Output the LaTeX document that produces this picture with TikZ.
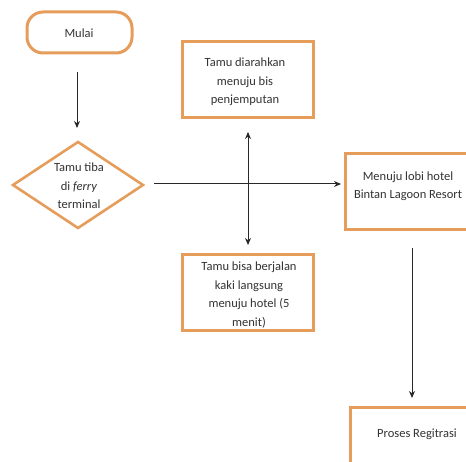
\documentclass[tikz,border=0pt]{standalone}
\usepackage{fontspec}
\setmainfont{Carlito}
\usetikzlibrary{shapes.geometric,arrows.meta}
\definecolor{boxorange}{RGB}{230,156,90}
\definecolor{linegray}{RGB}{40,40,40}
\tikzset{
  x=1pt, y=-1pt,
  flowbox/.style={draw=boxorange, line width=3pt, fill=white},
  lbl/.style={align=center, font=\fontsize{12.5}{18.5}\selectfont, text=black!80, inner sep=0pt},
  conn/.style={draw=linegray, line width=1pt, -{Stealth[length=7pt,width=6pt]}},
}
\begin{document}
\begin{tikzpicture}
\useasboundingbox (0,0) rectangle (466,462);
\clip (0,0) rectangle (466,462);
% start
\draw[flowbox, rounded corners=16pt] (27,12) rectangle (132,53);
\node[lbl] (mulai) at (79,33) {Mulai};
\coordinate (mulaiB) at (77,72);
% decision
\draw[flowbox, line width=2.6pt] (13,185) -- (78,142) -- (143,185) -- (78,228) -- cycle;
\node[lbl] (tiba) at (79,186) {Tamu tiba\\di \textit{ferry}\\terminal};
\coordinate (tibaT) at (77,128);
\coordinate (tibaR) at (154,184);
% boxes
\draw[flowbox] (182,42) rectangle (313,118);
\node[lbl] (bis) at (245,82) {Tamu diarahkan\\menuju bis\\penjemputan};
\draw[flowbox] (182,255) rectangle (313,331);
\node[lbl] (jalan) at (249,295) {Tamu bisa berjalan\\kaki langsung\\menuju hotel (5\\menit)};
\draw[flowbox] (345,154) rectangle (472,230);
\node[lbl] (lobi) at (408,186) {Menuju lobi hotel\\Bintan Lagoon Resort};
\draw[flowbox] (350,407) rectangle (486,480);
\node[lbl] (reg) at (417,434) {Proses Regitrasi};
% connectors
\coordinate (cross) at (248,184);
\coordinate (up) at (248,132);
\coordinate (down) at (248,245);
\coordinate (lobiL) at (341,184);
\coordinate (lobiB) at (412,248);
\coordinate (regT) at (412,398);
\draw[conn] (mulaiB) -- (tibaT);
\draw[conn] (tibaR) -- (lobiL);
\draw[conn] (cross) -- (up);
\draw[conn] (cross) -- (down);
\draw[conn] (lobiB) -- (regT);
\end{tikzpicture}
\end{document}
